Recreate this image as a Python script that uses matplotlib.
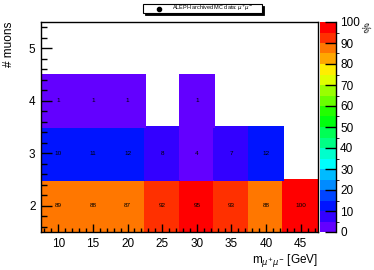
import colorsys
import numpy as np
import matplotlib
matplotlib.use("Agg")
import matplotlib.pyplot as plt
from matplotlib.colors import ListedColormap, BoundaryNorm
from matplotlib.patches import Rectangle
from matplotlib.lines import Line2D

plt.rcParams['font.family'] = ['Liberation Sans', 'DejaVu Sans']

# Data
mass_centers = [10, 15, 20, 25, 30, 35, 40, 45]
n_muons = [2, 3, 4, 5]
row2 = [89, 88, 87, 92, 95, 93, 88, 100]
row3 = [10, 11, 12, 8, 4, 7, 12, 0]
row4 = [1, 1, 1, 0, 1, 0, 0, 0]
row5 = [0, 0, 0, 0, 0, 0, 0, 0]
cbar_ticks = [0, 10, 20, 30, 40, 50, 60, 70, 80, 90, 100]
x_ticks = [10, 15, 20, 25, 30, 35, 40, 45]
y_ticks = [2, 3, 4, 5]

# ROOT "pretty" palette with 20 contours
ncont = 20
colors = []
for j in range(ncont):
    idx = int((j + 0.99) * 50 / ncont)
    hue = 280 - (idx + 1) * (280 / 50)
    colors.append(colorsys.hls_to_rgb(hue / 360, 0.5, 1.0))
cmap = ListedColormap(colors)
bounds = np.linspace(0, 100, ncont + 1)
norm = BoundaryNorm(bounds, ncont)

Z = np.array([row2, row3, row4, row5], dtype=float)
Zm = np.ma.masked_where(Z <= 0, np.minimum(Z, 99.99))

xe = np.append(np.array(mass_centers) - 2.5, mass_centers[-1] + 2.5)
ye = np.append(np.array(n_muons) - 0.5, n_muons[-1] + 0.5)

fig = plt.figure(figsize=(3.74, 2.70), dpi=100)
ax = fig.add_axes([41/374, 1 - 232/270, 277/374, 210/270])
ax.pcolormesh(xe, ye, Zm, cmap=cmap, norm=norm, edgecolors='face', linewidth=0.3)

for i, yv in enumerate(n_muons):
    for k, xv in enumerate(mass_centers):
        v = Z[i, k]
        if v > 0:
            ax.text(xv, yv, f"{int(v)}", ha='center', va='center', fontsize=4.6, color='black')

ax.set_xlim(7.5, 47.5)
ax.set_ylim(1.5, 5.5)
ax.set_xticks(x_ticks)
ax.set_yticks(y_ticks)
ax.set_xticks(np.arange(8, 48, 1), minor=True)
ax.set_yticks(np.arange(1.6, 5.5, 0.2), minor=True)
ax.tick_params(which='both', direction='in', top=False, right=False, labelsize=8.5, width=1.0)
ax.tick_params(which='major', length=6, pad=4)
ax.tick_params(which='minor', length=3)
ax.tick_params(axis='y', which='major', length=8)
ax.tick_params(axis='y', which='minor', length=4)
for s in ax.spines.values():
    s.set_linewidth(1.0)

ax.set_xlabel(r"m$_{\mu^{+}\mu^{-}}$ [GeV]", fontsize=8.5, ha='right', x=1.0, labelpad=2)
ax.set_ylabel("# muons", fontsize=8.5, ha='right', y=1.0, labelpad=10)

# Colorbar
cax = fig.add_axes([320/374, 1 - 232/270, 16/374, 210/270])
cb = fig.colorbar(matplotlib.cm.ScalarMappable(norm=norm, cmap=cmap), cax=cax, ticks=cbar_ticks)
cb.outline.set_visible(False)
cax.tick_params(direction='in', length=8, width=1.0, labelsize=8.5, pad=3, right=True)
cax.set_yticks(cbar_ticks)
cax.spines['right'].set_visible(True)
cax.spines['right'].set_linewidth(1.0)
fig.text(364/374, 1 - 22/270, "%", rotation=-60, fontsize=7, ha='center', va='top')

# Legend box
lx0, ly0, lw, lh = 143/374, 1 - 13/270, 119/374, 9/270
fig.patches.append(Rectangle((lx0 + 1.5/374, ly0 - 1.5/270), lw, lh, transform=fig.transFigure,
                             facecolor='black', edgecolor='black', lw=0.6))
fig.patches.append(Rectangle((lx0, ly0), lw, lh, transform=fig.transFigure,
                             facecolor='white', edgecolor='black', lw=0.8))
fig.lines.append(Line2D([159/374], [1 - 8.5/270], marker='o', markersize=3,
                        color='black', transform=fig.transFigure))
fig.text(172/374, 1 - 8.5/270, r"ALEPH archived MC data: $\mu^{+}\mu^{-}$", fontsize=4,
         ha='left', va='center')

fig.savefig("out.png", dpi=100)
